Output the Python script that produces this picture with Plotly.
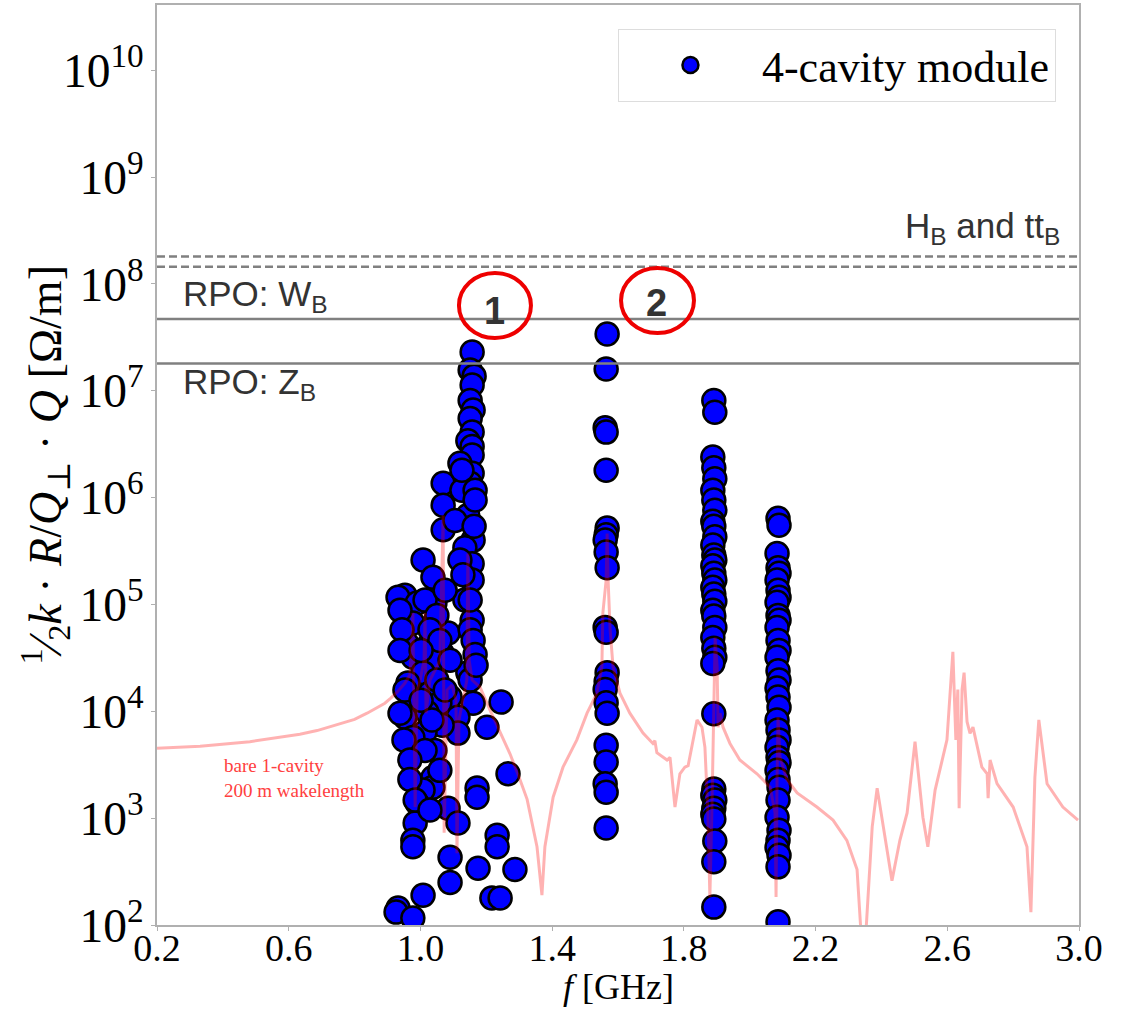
import plotly.graph_objects as go

# ---------------- data ----------------
# 4-cavity module modes: frequency [GHz] and 1/2 k R/Q_perp Q [Ohm/m]
mode1_f = [1.157, 1.151, 1.163, 1.157, 1.151, 1.160, 1.151, 1.157, 1.144, 1.157,
           1.157, 1.120, 1.157, 1.126, 1.151, 1.069, 1.069, 1.144, 1.069, 1.160,
           1.135, 1.008, 1.157, 1.038, 1.157, 0.953, 0.932, 1.135, 0.990, 1.044,
           1.157, 0.977, 1.044, 1.084, 1.151, 0.959, 1.020, 1.160, 0.977, 1.066,
           1.038, 1.008, 1.144, 0.962, 1.151, 1.029, 1.090, 0.977, 1.245, 1.160,
           1.059, 1.020, 1.114, 0.953, 1.202, 1.114, 1.066, 1.014, 0.977, 1.044,
           1.014, 1.266, 1.172, 1.172, 1.038, 1.038, 1.008, 0.990, 1.084, 1.114,
           0.984, 0.977, 0.977, 1.233, 1.233, 1.090, 1.175, 1.287, 1.090, 1.008,
           1.217, 1.242, 0.932, 0.926, 0.977,
           0.938, 0.944, 0.938, 0.953, 0.938, 0.950, 0.968, 0.968, 0.984,
           1.014, 1.050, 1.029, 1.059, 1.002, 1.090, 1.050, 1.075, 1.002, 1.035,
           1.059, 1.029, 1.126, 1.105, 1.120, 1.129, 1.075, 1.166, 1.166, 1.163,
           1.151, 1.166, 1.169, 1.126]
mode1_z = [2.3e7, 1.56e7, 1.37e7, 1.13e7, 8.1e6, 6.6e6, 5.5e6, 4.1e6, 3.4e6, 3.0e6,
           2.5e6, 2.1e6, 1.69e6, 1.45e6, 1.36e6, 1.36e6, 8.5e5, 6.8e5, 5.0e5, 4.0e5,
           3.4e5, 2.6e5, 2.4e5, 1.8e5, 1.69e5, 1.22e5, 1.17e5, 1.10e5, 1.03e5, 1.03e5,
           7.1e4, 6.7e4, 6.8e4, 5.4e4, 5.8e4, 4.3e4, 4.0e4, 4.6e4, 3.2e4, 3.5e4,
           3.0e4, 2.3e4, 2.3e4, 1.84e4, 1.96e4, 1.48e4, 1.36e4, 1.19e4, 1.22e4, 1.19e4,
           1.19e4, 9.8e3, 8.8e3, 8.8e3, 7.1e3, 6.25e3, 7.4e3, 6.4e3, 5.7e3, 4.3e3,
           4.3e3, 2.6e3, 1.91e3, 1.57e3, 2.4e3, 1.95e3, 1.83e3, 1.38e3, 1.24e3, 9.0e2,
           9.0e2, 6.2e2, 5.4e2, 6.9e2, 5.4e2, 4.3e2, 3.4e2, 3.3e2, 2.5e2, 1.9e2,
           1.79e2, 1.79e2, 1.44e2, 1.32e2, 1.16e2,
           8.8e4, 5.8e4, 3.7e4, 1.58e4, 9.6e3, 5.4e3, 3.5e3, 2.3e3, 1.48e3,
           1.1e5, 7.9e4, 5.8e4, 4.6e4, 3.7e4, 3.0e4, 1.96e4, 1.58e4, 1.27e4, 8.3e3,
           2.8e3, 1.19e3, 1.17e6, 6.1e5, 2.6e5, 1.9e5, 1.36e5, 1.17e6, 9.5e5, 5.4e5,
           1.1e5, 3.4e4, 2.7e4, 1.8e6]

mode2_f = [1.567, 1.564, 1.561, 1.564, 1.564, 1.567, 1.564, 1.561, 1.564, 1.567,
           1.561, 1.564, 1.567, 1.564, 1.561, 1.564, 1.567, 1.564, 1.564, 1.561,
           1.564, 1.564]
mode2_z = [3.4e7, 1.6e7, 4.5e6, 4.1e6, 1.8e6, 5.2e5, 4.5e5, 4.0e5, 3.1e5, 2.2e5,
           6.1e4, 5.5e4, 2.3e4, 1.9e4, 1.6e4, 1.2e4, 9.6e3, 4.8e3, 3.35e3, 2.1e3,
           1.75e3, 8.1e2]

mode3_f = [1.891, 1.894, 1.888, 1.891, 1.894, 1.888, 1.891, 1.894, 1.888, 1.891,
           1.894, 1.888, 1.891, 1.894, 1.888, 1.891, 1.894, 1.888, 1.891, 1.894,
           1.888, 1.891, 1.894, 1.888, 1.891, 1.894, 1.888, 1.891, 1.891, 1.888,
           1.894, 1.891, 1.888, 1.891, 1.894, 1.891, 1.891]
mode3_z = [8.1e6, 6.3e6, 2.4e6, 1.9e6, 1.5e6, 1.17e6, 9.5e5, 7.6e5, 6.0e5, 5.4e5,
           4.3e5, 3.6e5, 2.9e5, 2.6e5, 2.3e5, 1.96e5, 1.69e5, 1.45e5, 1.25e5, 1.07e5,
           8.8e4, 7.8e4, 6.1e4, 4.9e4, 3.9e4, 3.2e4, 2.8e4, 9.5e3, 1.87e3, 1.64e3,
           1.48e3, 1.24e3, 1.09e3, 9.8e2, 6.1e2, 3.9e2, 1.47e2]

mode4_f = [2.086, 2.089, 2.083, 2.086, 2.089, 2.083, 2.086, 2.089, 2.083, 2.086,
           2.089, 2.083, 2.086, 2.089, 2.083, 2.086, 2.089, 2.083, 2.086, 2.089,
           2.083, 2.086, 2.089, 2.083, 2.086, 2.089, 2.083, 2.086, 2.089, 2.086,
           2.083, 2.089, 2.086, 2.083, 2.089, 2.086, 2.086]
mode4_z = [6.4e5, 5.5e5, 3.0e5, 2.2e5, 1.96e5, 1.69e5, 1.36e5, 1.17e5, 1.05e5, 7.9e4,
           7.1e4, 6.1e4, 4.6e4, 3.7e4, 3.2e4, 2.4e4, 1.96e4, 1.65e4, 1.36e4, 1.09e4,
           8.3e3, 6.7e3, 5.4e3, 4.6e3, 3.7e3, 3.3e3, 2.8e3, 2.3e3, 1.95e3, 1.48e3,
           1.02e3, 7.7e2, 6.2e2, 5.3e2, 4.5e2, 3.5e2, 1.07e2]

# bare 1-cavity impedance, 200 m wakelength
bare_f = [0.200, 0.331, 0.482, 0.560, 0.634, 0.686, 0.756, 0.800, 0.838, 0.870,
          0.892, 0.910, 0.929, 0.953,
          0.968, 0.974, 0.977, 0.980, 0.984, 0.990, 0.999, 1.011, 1.014, 1.017,
          1.029, 1.044, 1.059, 1.069, 1.072, 1.081, 1.096, 1.108, 1.111, 1.117,
          1.129, 1.141, 1.144, 1.148, 1.157, 1.181, 1.211, 1.240, 1.272, 1.300,
          1.324, 1.354,
          1.369, 1.378, 1.403, 1.433, 1.475, 1.506, 1.536, 1.551, 1.554, 1.564,
          1.567, 1.570, 1.576, 1.585, 1.606, 1.636, 1.676, 1.706, 1.712, 1.718,
          1.749, 1.758, 1.773, 1.788, 1.803, 1.813, 1.840, 1.855, 1.864, 1.873,
          1.879, 1.885, 1.895, 1.901, 1.904, 1.910, 1.919, 1.940, 1.970, 2.022,
          2.062, 2.077, 2.080, 2.083, 2.086, 2.092, 2.113, 2.144, 2.204, 2.253,
          2.295, 2.326, 2.341, 2.350, 2.372, 2.387, 2.432, 2.456, 2.478, 2.502,
          2.526, 2.541, 2.563, 2.599, 2.617, 2.626, 2.632, 2.636, 2.645, 2.651,
          2.660, 2.669, 2.678, 2.705, 2.721, 2.724, 2.730, 2.751, 2.800, 2.842,
          2.854, 2.866, 2.878, 2.903, 2.951, 2.997]
bare_z = [4.5e3, 4.7e3, 5.2e3, 5.6e3, 6.1e3, 6.6e3, 7.6e3, 8.4e3, 9.6e3, 1.08e4,
          1.19e4, 1.33e4, 1.51e4, 1.84e4,
          2.18e4, 4.6e4, 8.3e4, 1.27e4, 1.27e3, 1.58e4, 1.96e4, 3.0e4, 8.3e4, 9.6e3,
          1.96e4, 2.4e4, 3.0e4, 6.8e5, 7.3e2, 1.58e4, 1.76e4, 1.27e4, 4.7e2, 8.3e3,
          1.27e4, 1.96e4, 3.0e5, 3.0e4, 1.96e4, 1.68e4, 1.03e4, 6.5e3, 4.0e3, 2.4e3,
          1.5e3, 5.4e2,
          1.9e2, 5.4e2, 1.57e3, 3.0e3, 5.4e3, 9.6e3, 1.48e4, 2.6e4, 8.3e4, 1.69e5,
          4.6e5, 1.69e5, 5.8e4, 2.6e4, 1.48e4, 9.6e3, 6.25e3, 5.0e3, 5.3e3, 4.1e3,
          3.5e3, 3.7e3, 1.27e3, 2.6e3, 3.0e3, 3.1e3, 8.3e3, 7.1e3, 4.6e3, 1.12e3,
          1.83e2, 1.12e3, 4.9e4, 2.6e4, 7.1e3, 9.6e3, 7.1e3, 5.0e3, 3.5e3, 2.6e3,
          1.95e3, 1.12e3, 1.83e2, 2.3e3, 8.8e3, 3.7e3, 2.3e3, 1.72e3, 1.27e3, 9.6e2,
          6.2e2, 3.3e2, 6.0e1, 6.0e1, 8.3e2, 1.91e3, 2.6e2, 6.2e2, 1.12e3, 5.2e3,
          1.02e3, 5.4e2, 1.83e3, 5.4e3, 3.6e4, 5.4e3, 1.6e4, 1.24e3, 1.6e4, 2.3e4,
          8.0e3, 6.2e3, 7.1e3, 3.0e3, 2.6e3, 1.54e3, 3.5e3, 2.1e3, 1.27e3, 5.4e2,
          1.32e2, 2.4e3, 8.3e3, 2.1e3, 1.27e3, 9.6e2]

# instability thresholds [Ohm/m]
threshold_dashed = [1.8e8, 1.45e8]   # H_B and tt_B
threshold_W = 4.7e7                  # RPO: W_B
threshold_Z = 1.8e7                  # RPO: Z_B

x_range = [0.2, 3.0]
x_ticks = [0.2, 0.6, 1.0, 1.4, 1.8, 2.2, 2.6, 3.0]

# ---------------- figure ----------------
SERIF = "Liberation Serif, DejaVu Serif, serif"
SANS = "Liberation Sans, Arial, sans-serif"

fig = go.Figure()

all_f = mode1_f + mode2_f + mode3_f + mode4_f
all_z = mode1_z + mode2_z + mode3_z + mode4_z

fig.add_trace(go.Scatter(
    x=all_f, y=all_z, mode="markers", name="4-cavity module",
    marker=dict(size=23, color="#0000ff", line=dict(color="black", width=2.5)),
))

fig.add_trace(go.Scatter(
    x=bare_f, y=bare_z, mode="lines", showlegend=False,
    line=dict(color="rgba(255,0,0,0.3)", width=3),
))

for v in threshold_dashed:
    fig.add_trace(go.Scatter(
        x=x_range, y=[v, v], mode="lines", showlegend=False,
        line=dict(color="#808080", width=2.5, dash="8px,4px"),
    ))
for v in [threshold_W, threshold_Z]:
    fig.add_trace(go.Scatter(
        x=x_range, y=[v, v], mode="lines", showlegend=False,
        line=dict(color="#808080", width=2.5),
    ))

axis_common = dict(
    showgrid=False, zeroline=False, showline=True, mirror=True, automargin=False,
    linecolor="#b0b0b0", linewidth=1.5, ticks="outside", ticklen=4,
    tickcolor="#b0b0b0", tickfont=dict(family=SERIF, size=38, color="black"),
)

fig.update_layout(
    width=1132, height=1012,
    margin=dict(l=157, r=53, t=5, b=87),
    paper_bgcolor="white", plot_bgcolor="white",
    xaxis=dict(range=x_range, tickvals=x_ticks,
               ticktext=[f"{t:.1f}" for t in x_ticks],
               ticklabelstandoff=-15,
               **axis_common),
    yaxis=dict(type="log", range=[2, 10.61], dtick=1, exponentformat="power",
               showexponent="all", **axis_common),
    legend=dict(x=0.975, xanchor="right", y=0.974, yanchor="top",
                bgcolor="white", bordercolor="#dddddd", borderwidth=1,
                font=dict(family=SERIF, size=44, color="black"),
                itemwidth=133),
    showlegend=True,
)

annotations = [
    dict(text="<i>f</i> [GHz]", xref="paper", yref="paper", x=0.5, y=-0.0675,
         xanchor="center", yanchor="middle", showarrow=False,
         font=dict(family=SERIF, size=36, color="black")),
    dict(text="<sup>1</sup>⁄<sub>2</sub><i>k</i> · <i>R</i>/<i>Q</i><sub>⊥</sub> · <i>Q</i> [Ω/m]",
         xref="paper", yref="paper", x=-0.122, y=0.5, textangle=-90,
         xanchor="center", yanchor="middle",
         showarrow=False, font=dict(family=SERIF, size=46, color="black")),
    dict(text="H<sub>B</sub> and tt<sub>B</sub>", xref="paper", yref="paper",
         x=0.982, y=0.758, xanchor="right", yanchor="middle", showarrow=False,
         font=dict(family=SANS, size=35, color="#333333")),
    dict(text="RPO: W<sub>B</sub>", xref="paper", yref="paper",
         x=0.026, y=0.684, xanchor="left", yanchor="middle", showarrow=False,
         font=dict(family=SANS, size=35, color="#333333")),
    dict(text="RPO: Z<sub>B</sub>", xref="paper", yref="paper",
         x=0.026, y=0.588, xanchor="left", yanchor="middle", showarrow=False,
         font=dict(family=SANS, size=35, color="#333333")),
    dict(text="<b>1</b>", xref="paper", yref="paper",
         x=0.3665, y=0.667, xanchor="center", yanchor="middle", showarrow=False,
         font=dict(family=SANS, size=38, color="#333333")),
    dict(text="<b>2</b>", xref="paper", yref="paper",
         x=0.5415, y=0.676, xanchor="center", yanchor="middle", showarrow=False,
         font=dict(family=SANS, size=38, color="#333333")),
    dict(text="bare 1-cavity<br>200 m wakelength", xref="paper", yref="paper",
         x=0.070, y=0.160, xanchor="left", yanchor="middle", align="left",
         showarrow=False, font=dict(family=SERIF, size=19, color="#ff4040")),
]
fig.update_layout(annotations=annotations)

fig.add_shape(type="circle", xref="paper", yref="paper",
              x0=0.3275, x1=0.4056, y0=0.638, y1=0.7087,
              line=dict(color="#ee0000", width=4))
fig.add_shape(type="circle", xref="paper", yref="paper",
              x0=0.5033, x1=0.5824, y0=0.6435, y1=0.7141,
              line=dict(color="#ee0000", width=4))

fig.write_html("out.html")
